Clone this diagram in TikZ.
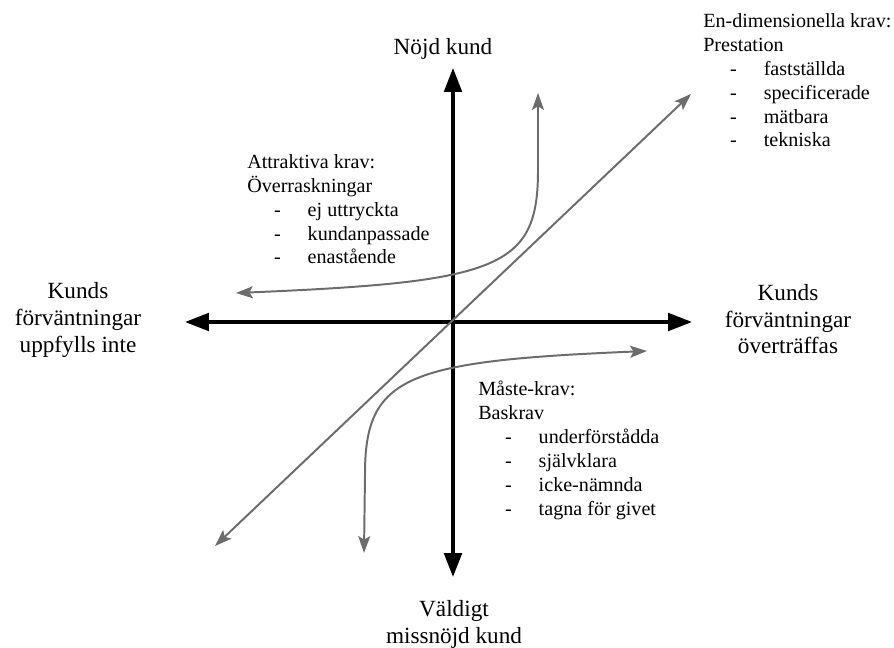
\documentclass[tikz,border=0pt]{standalone}
\usepackage{fontspec}
\setmainfont{Liberation Serif}
\usetikzlibrary{arrows.meta}
\definecolor{kgray}{RGB}{108,108,108}
\newcommand{\punkt}[1]{\hspace*{19pt}\makebox[24pt][l]{-}#1}

\begin{document}
\begin{tikzpicture}[x=0.025cm, y=-0.025cm,
    axel/.style={line width=2.4pt, >={Triangle[length=17pt, width=12.5pt]}},
    kurva/.style={line width=1.4pt, draw=kgray, >={Stealth[length=12pt, width=8.5pt, inset=2.5pt]}},
    rubrik/.style={inner sep=0pt, align=center, anchor=base, font=\fontsize{16.5}{19.2}\selectfont},
    lista/.style={inner sep=0pt, align=left, anchor=base west, font=\fontsize{14.3}{17}\selectfont}]
    \useasboundingbox (0,0) rectangle (894,648);

    % axlar
    \coordinate (o) at (453,322);
    \coordinate (vanster) at (185,322);
    \coordinate (hoger) at (692,322);
    \coordinate (topp) at (453,68);
    \coordinate (botten) at (453,577);
    \draw[axel, <->] (vanster) -- (hoger);
    \draw[axel, <->] (botten) -- (topp);

    % kurvor
    \coordinate (d1) at (215,546);
    \coordinate (d2) at (691,94);
    \coordinate (a1) at (236,293);
    \coordinate (a2) at (538,93);
    \coordinate (m1) at (647,351);
    \coordinate (m2) at (364,553);
    \draw[kurva, <->] (d1) -- (d2);
    \draw[kurva, <->] (a1) .. controls (500,282) and (538,268) .. (538,170) -- (a2);
    \draw[kurva, <->] (m1) .. controls (406,361) and (365,376) .. (365,474) -- (m2);

    % rubriker (placerade efter sista raden)
    \node[rubrik] (nojd) at (443,55) {Nöjd kund};
    \node[rubrik] (missnojd) at (454,643) {Väldigt\\missnöjd kund};
    \node[rubrik] (uppfylls) at (78,353) {Kunds\\förväntningar\\uppfylls inte};
    \node[rubrik] (overtraffas) at (788,354) {Kunds\\förväntningar\\överträffas};

    % kravtyper
    \node[lista] (attraktiva) at (247,264) {Attraktiva krav:\\Överraskningar\\
        \punkt{ej uttryckta}\\\punkt{kundanpassade}\\\punkt{enastående}};
    \node[lista] (endim) at (703,147) {En-dimensionella krav:\\Prestation\\
        \punkt{fastställda}\\\punkt{specificerade}\\\punkt{mätbara}\\\punkt{tekniska}};
    \node[lista] (maste) at (478,515) {Måste-krav:\\Baskrav\\
        \punkt{underförstådda}\\\punkt{självklara}\\\punkt{icke-nämnda}\\\punkt{tagna för givet}};
\end{tikzpicture}
\end{document}
